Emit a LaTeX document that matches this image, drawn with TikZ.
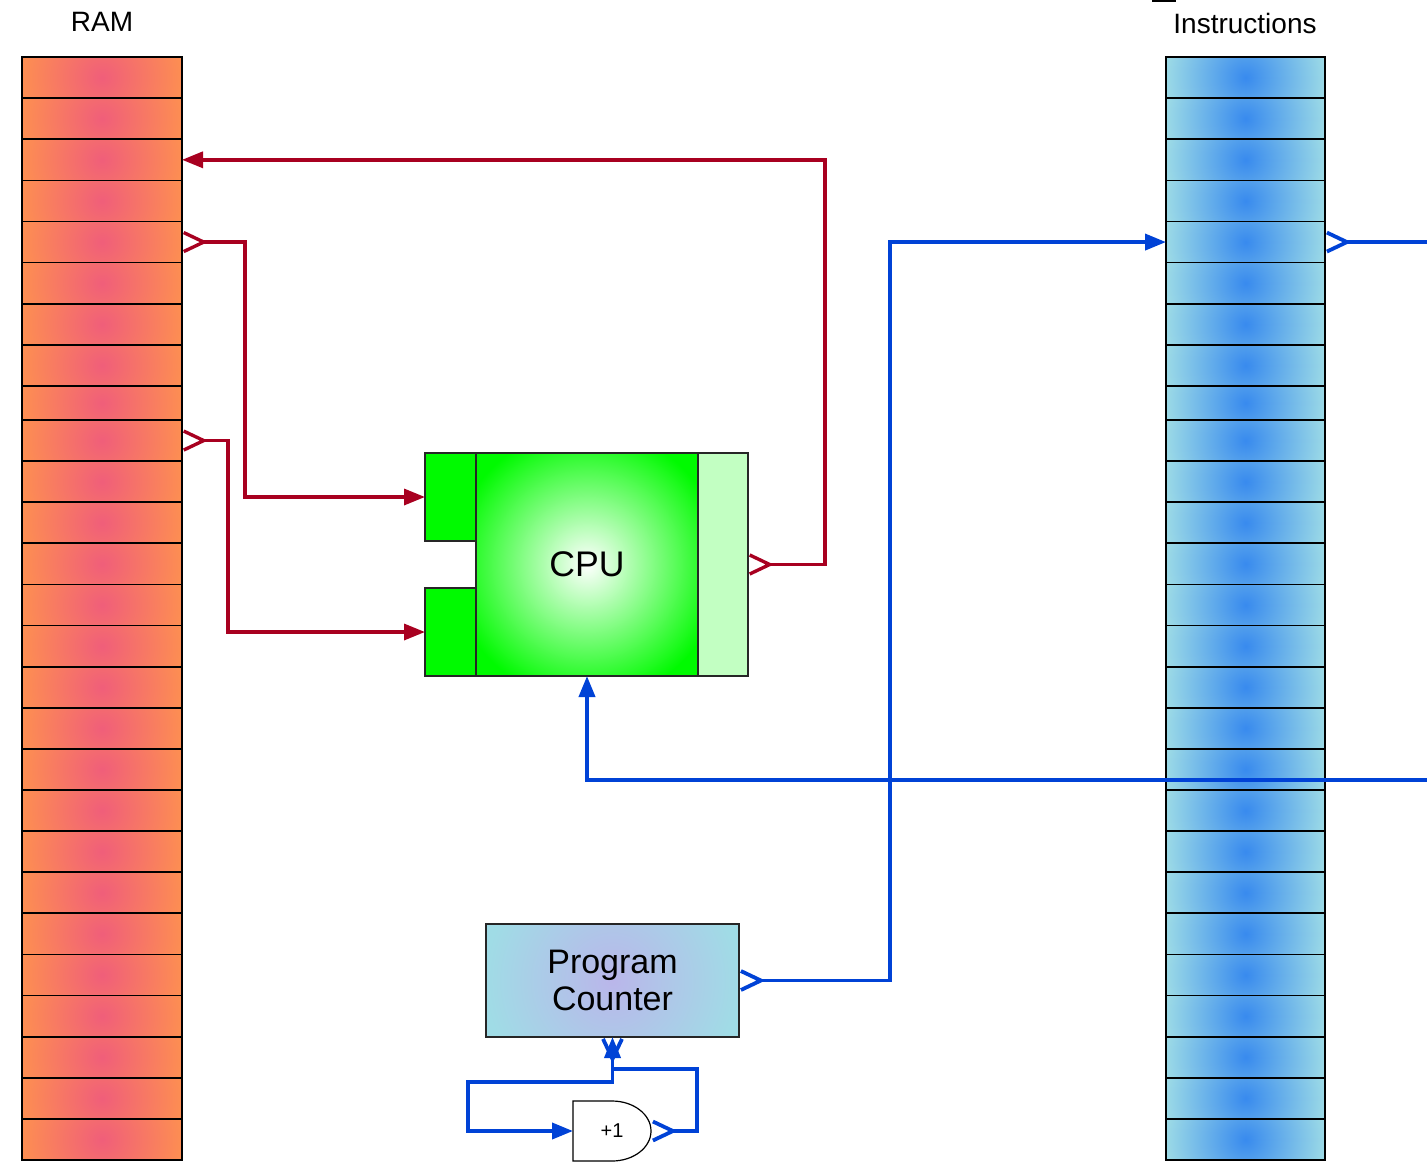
\documentclass[tikz,border=0pt]{standalone}
\usepackage{fontspec}
\setmainfont{Liberation Sans}
\usetikzlibrary{arrows.meta,backgrounds,calc}
\definecolor{redln}{RGB}{168,0,32}
\definecolor{blueln}{RGB}{0,66,214}
\definecolor{ramedge}{RGB}{253,142,82}
\definecolor{ramcore}{RGB}{240,94,122}
\definecolor{insedge}{RGB}{156,218,230}
\definecolor{inscore}{RGB}{56,138,238}
\definecolor{cpugreen}{RGB}{0,250,0}
\definecolor{cpulight}{RGB}{194,255,194}
\definecolor{pcedge}{RGB}{160,220,230}
\definecolor{pccore}{RGB}{186,182,234}
\tikzset{
  barbtail/.tip={Straight Barb[reversed,length=10pt,width=9.5pt]},
  filltip/.tip={Triangle[length=10.5pt,width=8pt]},
}
\begin{document}
\begin{tikzpicture}[x=0.5pt,y=-0.5pt,
  cellbase/.style={draw=black, line width=0.85pt, inner sep=0pt, outer sep=0pt},
  ramcell/.style={cellbase, minimum width=80pt, fill=ramedge,
    path picture={\shade[inner color=ramcore, outer color=ramedge] (path picture bounding box.center) circle[radius=40pt];}},
  inscell/.style={cellbase, minimum width=79.5pt, fill=insedge,
    path picture={\shade[inner color=inscore, outer color=insedge] (path picture bounding box.center) circle[radius=40pt];}},
  blockbox/.style={draw=black!85, line width=0.7pt, inner sep=0pt, outer sep=0pt},
  redwire/.style={line width=1.7pt, draw=redln, arrows={barbtail-filltip}},
  bluewire/.style={line width=1.9pt, draw=blueln, arrows={barbtail-filltip}},
  lbl/.style={font=\fontsize{14}{17}\selectfont, inner sep=0pt},
]
\useasboundingbox (0,0) rectangle (1427,1161);
\clip (0,0) rectangle (1427,1161);

% titles
\node[lbl] (ramlbl) at (102,22) {RAM};
\node[lbl] (inslbl) at (1245,23) {Instructions};
\draw[line width=1.2pt] (1152,1) -- (1176,1);

% memory columns
\foreach \i in {1,...,8}{
  \pgfmathsetmacro\yc{57+41.125*(\i-0.5)}
  \node[ramcell, minimum height=20.5625pt] (ram\i) at (102,\yc) {};
  \node[inscell, minimum height=20.5625pt] (ins\i) at (1245.5,\yc) {};
}
\node[ramcell, minimum height=17pt] (ram9) at (102,403) {};
\node[inscell, minimum height=17pt] (ins9) at (1245.5,403) {};
\foreach \i in {10,...,27}{
  \pgfmathsetmacro\yc{420+41.111*(\i-9.5)}
  \node[ramcell, minimum height=20.5556pt] (ram\i) at (102,\yc) {};
  \node[inscell, minimum height=20.5556pt] (ins\i) at (1245.5,\yc) {};
}

% CPU
\node[blockbox, fill=cpugreen, minimum width=25.5pt, minimum height=44pt] (port1) at (450.5,497) {};
\node[blockbox, fill=cpugreen, minimum width=25.5pt, minimum height=44pt] (port2) at (450.5,632) {};
\node[blockbox, fill=cpugreen, minimum width=111pt, minimum height=111.5pt, font=\fontsize{17.8}{20}\selectfont,
  path picture={\shade[inner color=white, outer color=cpugreen] (path picture bounding box.center) circle[radius=68pt];}] (cpu) at (587,564.5) {CPU};
\node[blockbox, fill=cpulight, minimum width=25pt, minimum height=111.5pt] (cpuR) at (723,564.5) {};

% Program counter
\node[blockbox, fill=pcedge, minimum width=126.5pt, minimum height=56.5pt, align=center, font=\fontsize{17}{19.5}\selectfont,
  path picture={\shade[inner color=pccore, outer color=pcedge] (path picture bounding box.center) circle[radius=64pt];}] (pc) at (612.5,980.5) {\raisebox{-2pt}{Program}\\\raisebox{-1pt}{Counter}};

% +1 gate
\node[inner sep=0pt, outer sep=0pt, minimum width=39pt, minimum height=30pt, font=\fontsize{10}{12}\selectfont] (inc) at (612,1131) {+1};
\begin{scope}[on background layer]
  \draw[fill=white, line width=0.6pt] (inc.north west) -- (inc.north)
     arc[start angle=90, end angle=-90, x radius=19.5pt, y radius=15pt]
     -- (inc.south west) -- cycle;
\end{scope}

% red connectors
\draw[redwire] (ram5.east) -| ([xshift=-90pt]port1.west) -- (port1.west);
\draw[redwire] (ram10.east) -| ([xshift=-98.5pt]port2.west) -- (port2.west);
\draw[redwire] (cpuR.east) -- ++(77,0) |- (ram3.east);

% blue connectors
\coordinate (offR1) at (1460,780);
\draw[line width=1.9pt, draw=blueln, -{filltip}] (offR1) -| (cpu.south);
\draw[bluewire] (pc.east) -- ++(151,0) |- (ins5.west);
\draw[line width=1.9pt, draw=blueln, {barbtail}-] (ins5.east) -- ++(140,0);
\draw[bluewire] (pc.south) -- ++(0,45) -| ([xshift=-52.5pt]inc.west) -- (inc.west);
\draw[bluewire] (inc.east) -- ++(46,0) |- ([yshift=-16pt]pc.south) -- (pc.south);
\end{tikzpicture}
\end{document}
